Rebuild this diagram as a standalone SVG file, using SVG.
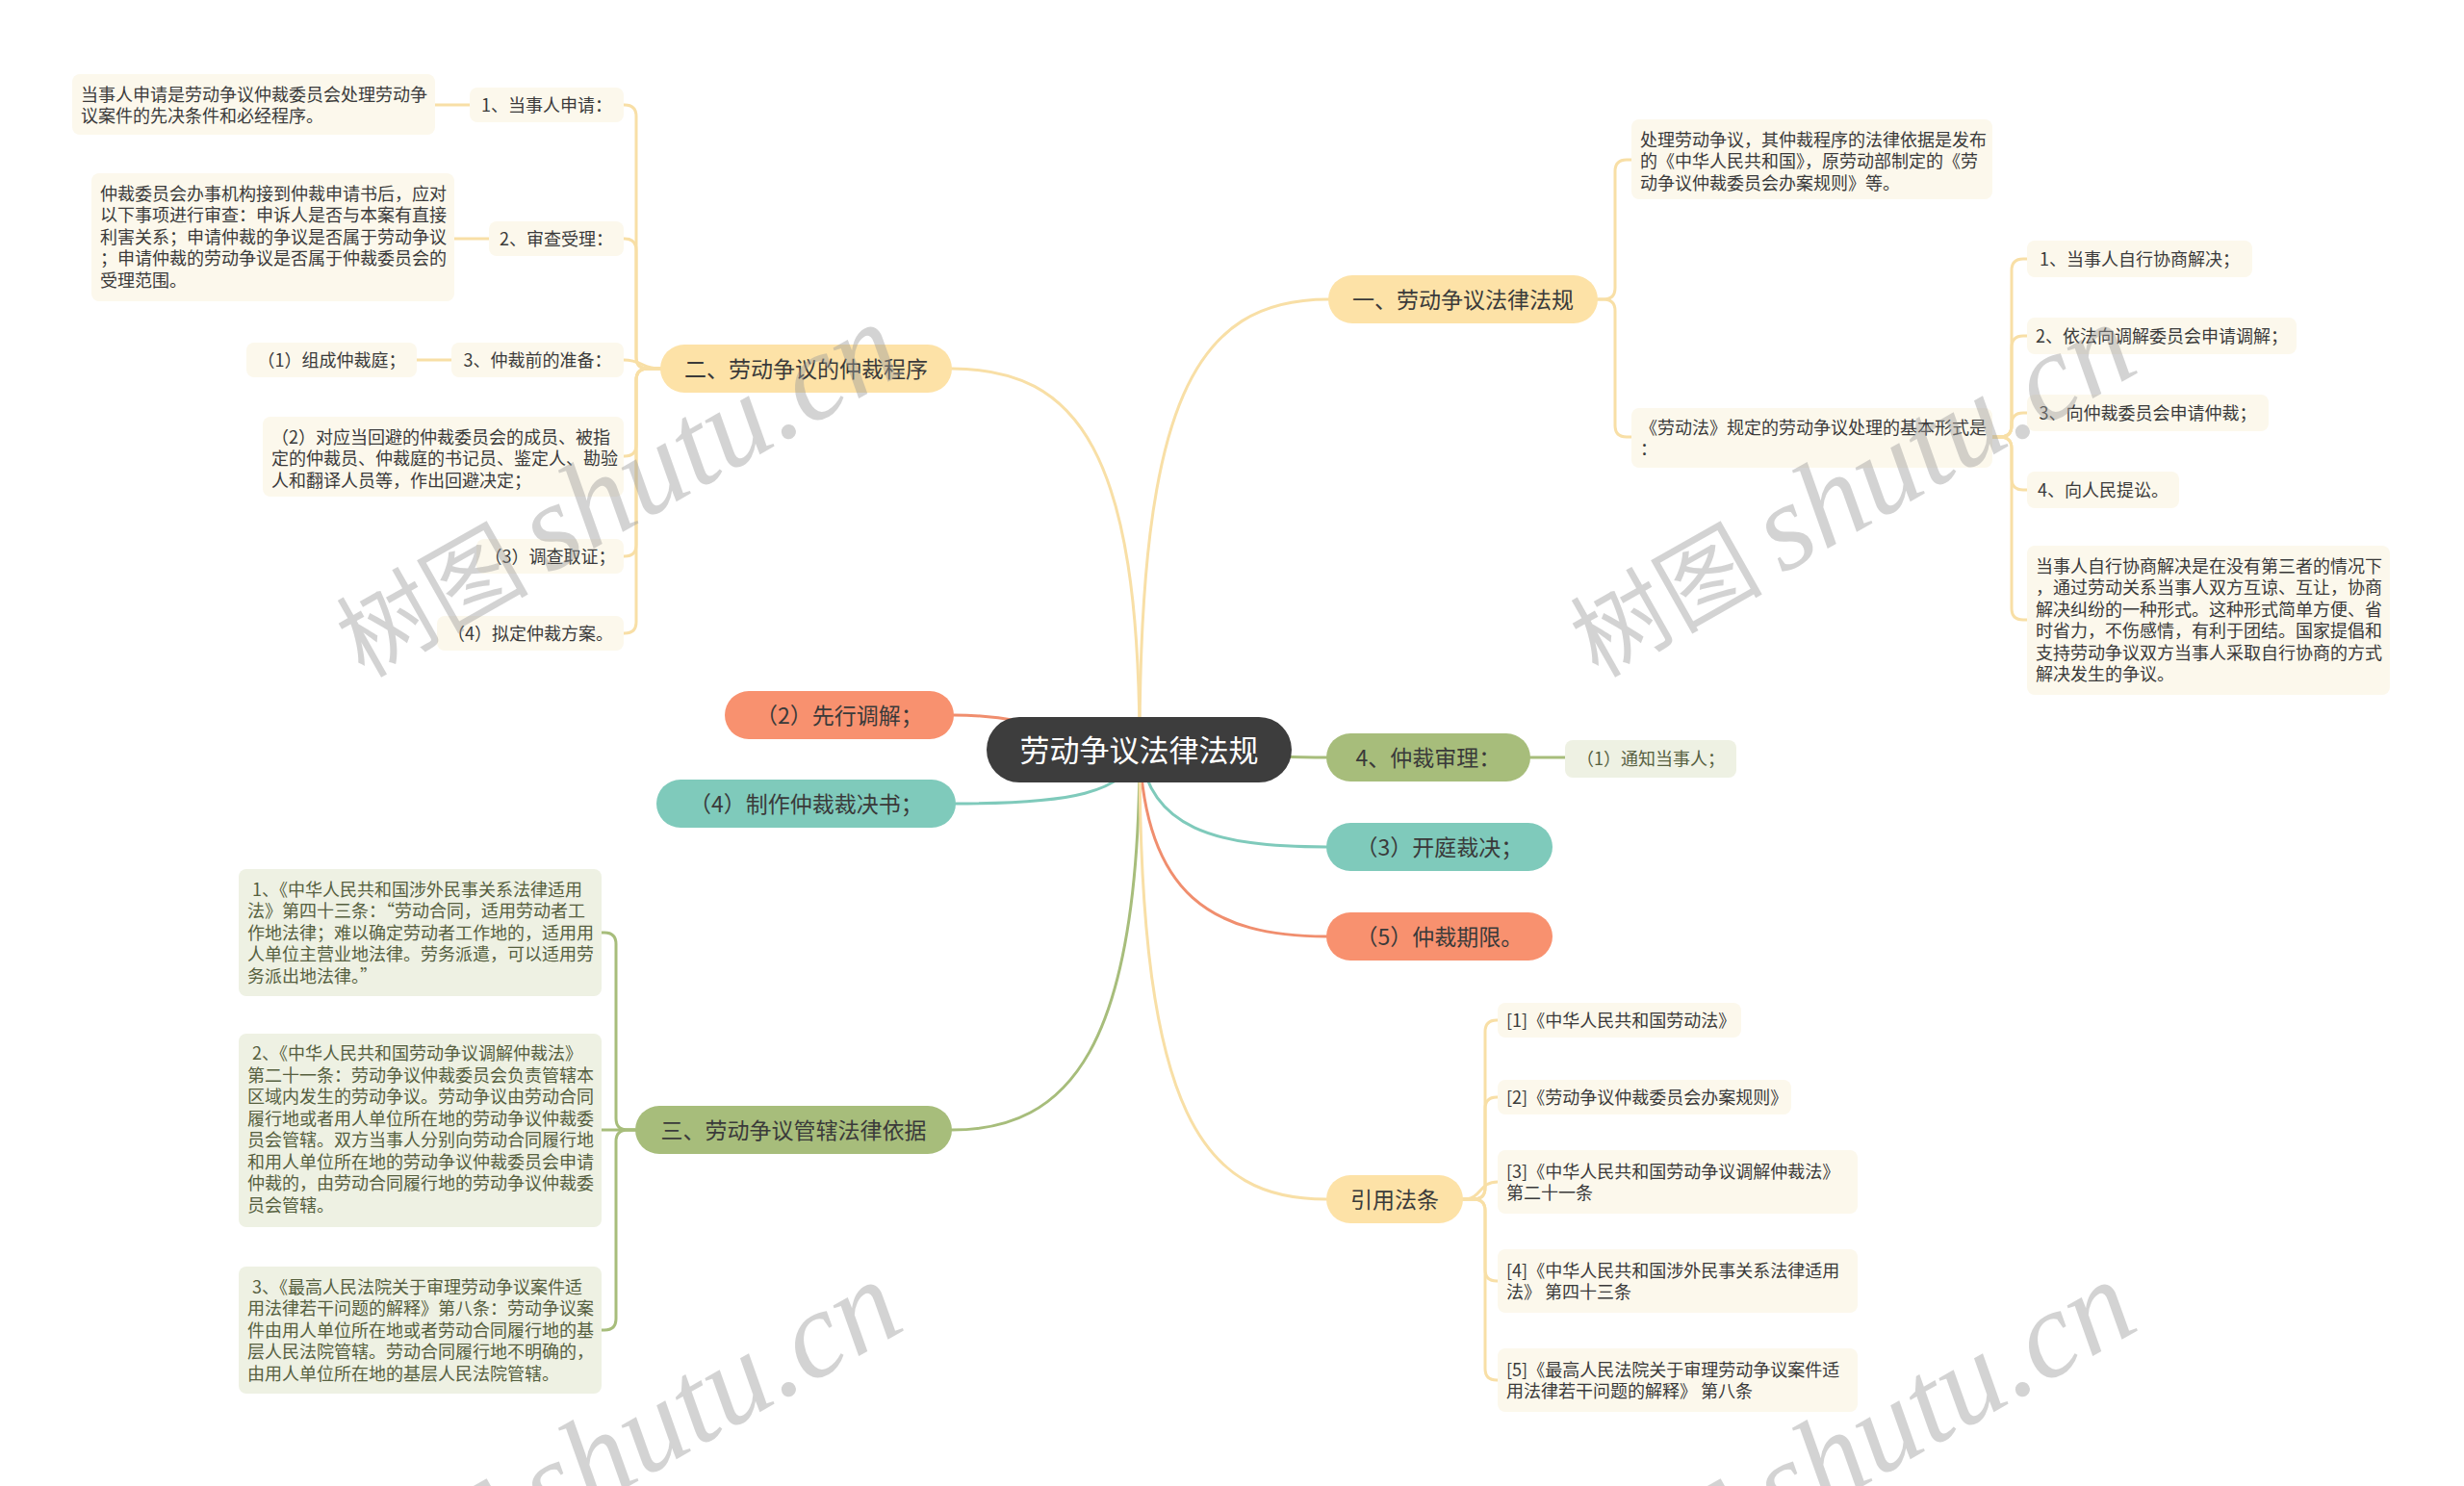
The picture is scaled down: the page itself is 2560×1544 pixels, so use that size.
<svg xmlns="http://www.w3.org/2000/svg" width="2560" height="1544" viewBox="0 0 2560 1544">
<style>
text{font-family:"Noto Sans CJK SC","Noto Sans",sans-serif;fill:#3a3a3a}
.l1{font-size:23px;text-anchor:middle}
.lf{font-size:18px}
.c{text-anchor:middle}
.gt{fill:#56603f}
.root{fill:#3d3d3d}
.ny{fill:#fde2a7}
.ng{fill:#a7bd7b}
.nt{fill:#7fcabb}
.no{fill:#f8916f}
.ly{fill:#fcf8ec}
.lg{fill:#eef1e3}
.cn path{fill:none;stroke-width:3;stroke-linecap:round}
.sy{stroke:#f8dfa6}
.sg{stroke:#a7bd7b}
.st{stroke:#7fcabb}
.so{stroke:#f08e6e}
.wm text{fill:#999;opacity:0.42}
.wl{font-style:italic;font-family:"Liberation Serif",serif}
</style>
<rect width="2560" height="1544" fill="#ffffff"/>

<g class="cn" id="connectors">
<path class="sy" d="M1184 779 C1184 420 1240 311 1380 311"/>
<path class="sy" d="M1184 779 C1184 470 1120 383 989 383"/>
<path class="so" d="M1184 779 C1100 760 1060 743 991 743"/>
<path class="st" d="M1184 779 C1170 825 1110 835 993 835"/>
<path class="sg" d="M1184 779 C1260 782 1300 787 1378 787"/>
<path class="st" d="M1184 779 C1195 860 1260 880 1378 880"/>
<path class="so" d="M1184 779 C1190 930 1260 973 1378 973"/>
<path class="sg" d="M1184 779 C1184 1090 1110 1174 989 1174"/>
<path class="sy" d="M1184 779 C1184 1160 1250 1246 1378 1246"/>

<path class="sy" d="M1660 311 L1666 311 Q1678 311 1678 299 L1678 178 Q1678 166 1690 166 L1695 166"/>
<path class="sy" d="M1660 311 L1666 311 Q1678 311 1678 323 L1678 442 Q1678 454 1690 454 L1695 454"/>

<path class="sy" d="M2070 454 L2078 454 Q2090 454 2090 442 L2090 281 Q2090 269 2102 269 L2106 269"/>
<path class="sy" d="M2070 454 L2078 454 Q2090 454 2090 442 L2090 361 Q2090 349 2102 349 L2106 349"/>
<path class="sy" d="M2070 454 L2078 454 Q2090 454 2090 442 L2090 441 Q2090 429 2102 429 L2106 429"/>
<path class="sy" d="M2070 454 L2078 454 Q2090 454 2090 466 L2090 497 Q2090 509 2102 509 L2106 509"/>
<path class="sy" d="M2070 454 L2078 454 Q2090 454 2090 466 L2090 632 Q2090 644 2102 644 L2106 644"/>

<path class="sy" d="M686 383 L673 383 Q661 383 661 371 L661 121 Q661 109 649 109 L648 109"/>
<path class="sy" d="M686 383 L673 383 Q661 383 661 371 L661 260 Q661 248 649 248 L648 248"/>
<path class="sy" d="M686 383 C667 383 667 374 648 374"/>
<path class="sy" d="M686 383 L673 383 Q661 383 661 395 L661 462 Q661 474 649 474 L648 474"/>
<path class="sy" d="M686 383 L673 383 Q661 383 661 395 L661 566 Q661 578 649 578 L648 578"/>
<path class="sy" d="M686 383 L673 383 Q661 383 661 395 L661 646 Q661 658 649 658 L648 658"/>
<path class="sy" d="M488 109 L452 109"/>
<path class="sy" d="M508 248 L472 248"/>
<path class="sy" d="M469 374 L433 374"/>

<path class="sg" d="M1590 787 L1626 787"/>

<path class="sg" d="M660 1174 L652 1174 Q640 1174 640 1162 L640 981 Q640 969 628 969 L625 969"/>
<path class="sg" d="M660 1174 L625 1174"/>
<path class="sg" d="M660 1174 L652 1174 Q640 1174 640 1186 L640 1370 Q640 1382 628 1382 L625 1382"/>

<path class="sy" d="M1520 1246 L1531 1246 Q1543 1246 1543 1234 L1543 1072 Q1543 1060 1555 1060 L1556 1060"/>
<path class="sy" d="M1520 1246 L1531 1246 Q1543 1246 1543 1234 L1543 1152 Q1543 1140 1555 1140 L1556 1140"/>
<path class="sy" d="M1520 1246 C1540 1246 1536 1228 1556 1228"/>
<path class="sy" d="M1520 1246 L1531 1246 Q1543 1246 1543 1258 L1543 1319 Q1543 1331 1555 1331 L1556 1331"/>
<path class="sy" d="M1520 1246 L1531 1246 Q1543 1246 1543 1258 L1543 1422 Q1543 1434 1555 1434 L1556 1434"/>
</g>

<g id="root"><rect class="root" x="1025" y="745" width="317" height="68" rx="34"/><text x="1183.5" y="790.5" font-size="31" text-anchor="middle" style="fill:#ffffff">劳动争议法律法规</text></g>

<g id="n1"><rect class="ny" x="1380" y="286" width="280" height="50" rx="25"/><text class="l1" x="1520" y="319.5">一、劳动争议法律法规</text></g>
<g id="n2"><rect class="ny" x="686" y="358" width="303" height="50" rx="25"/><text class="l1" x="837.5" y="391.5">二、劳动争议的仲裁程序</text></g>
<g id="n3"><rect class="no" x="753" y="718" width="238" height="50" rx="25"/><text class="l1" x="872" y="751.5">（2）先行调解；</text></g>
<g id="n4"><rect class="nt" x="682" y="810" width="311" height="50" rx="25"/><text class="l1" x="837.5" y="843.5">（4）制作仲裁裁决书；</text></g>
<g id="n5"><rect class="ng" x="1378" y="762" width="212" height="50" rx="25"/><text class="l1" x="1484" y="795.5">4、仲裁审理：</text></g>
<g id="n6"><rect class="nt" x="1378" y="855" width="235" height="50" rx="25"/><text class="l1" x="1495.5" y="888.5">（3）开庭裁决；</text></g>
<g id="n7"><rect class="no" x="1378" y="948" width="235" height="50" rx="25"/><text class="l1" x="1495.5" y="981.5">（5）仲裁期限。</text></g>
<g id="n8"><rect class="ng" x="660" y="1149" width="329" height="50" rx="25"/><text class="l1" x="824.5" y="1182.5">三、劳动争议管辖法律依据</text></g>
<g id="n9"><rect class="ny" x="1378" y="1221" width="142" height="50" rx="25"/><text class="l1" x="1449" y="1254.5">引用法条</text></g>

<g id="n5a"><rect class="lg" x="1626" y="769" width="178" height="39" rx="8"/><text class="lf c gt" x="1715" y="795">（1）通知当事人；</text></g>

<g id="a1"><rect class="ly" x="488" y="91" width="160" height="36" rx="8"/><text class="lf c" x="568" y="115.5">1、当事人申请：</text></g>
<g id="a1a"><rect class="ly" x="75" y="77" width="377" height="63" rx="8"/><text class="lf"><tspan x="84" y="104.5">当事人申请是劳动争议仲裁委员会处理劳动争</tspan><tspan x="84" y="127">议案件的先决条件和必经程序。</tspan></text></g>
<g id="a2"><rect class="ly" x="508" y="230" width="140" height="36" rx="8"/><text class="lf c" x="578" y="254.5">2、审查受理：</text></g>
<g id="a2a"><rect class="ly" x="95" y="180" width="377" height="133" rx="8"/><text class="lf"><tspan x="104" y="207.5">仲裁委员会办事机构接到仲裁申请书后，应对</tspan><tspan x="104" y="230">以下事项进行审查：申诉人是否与本案有直接</tspan><tspan x="104" y="252.5">利害关系；申请仲裁的争议是否属于劳动争议</tspan><tspan x="104" y="275">；申请仲裁的劳动争议是否属于仲裁委员会的</tspan><tspan x="104" y="297.5">受理范围。</tspan></text></g>
<g id="a3"><rect class="ly" x="469" y="356" width="179" height="36" rx="8"/><text class="lf c" x="558.5" y="380.5">3、仲裁前的准备：</text></g>
<g id="a3a"><rect class="ly" x="256" y="356" width="177" height="36" rx="8"/><text class="lf c" x="344.5" y="380.5">（1）组成仲裁庭；</text></g>
<g id="a4"><rect class="ly" x="273" y="433" width="375" height="83" rx="8"/><text class="lf"><tspan x="282" y="460.5">（2）对应当回避的仲裁委员会的成员、被指</tspan><tspan x="282" y="483">定的仲裁员、仲裁庭的书记员、鉴定人、勘验</tspan><tspan x="282" y="505.5">人和翻译人员等，作出回避决定；</tspan></text></g>
<g id="a5"><rect class="ly" x="495" y="560" width="153" height="36" rx="8"/><text class="lf c" x="571.5" y="584.5">（3）调查取证；</text></g>
<g id="a6"><rect class="ly" x="454" y="640" width="194" height="36" rx="8"/><text class="lf c" x="551" y="664.5">（4）拟定仲裁方案。</text></g>

<g id="b1"><rect class="ly" x="1695" y="124" width="375" height="83" rx="8"/><text class="lf"><tspan x="1704" y="151.5">处理劳动争议，其仲裁程序的法律依据是发布</tspan><tspan x="1704" y="174">的《中华人民共和国》，原劳动部制定的《劳</tspan><tspan x="1704" y="196.5">动争议仲裁委员会办案规则》等。</tspan></text></g>
<g id="b2"><rect class="ly" x="1695" y="424" width="375" height="62" rx="8"/><text class="lf"><tspan x="1704" y="450.5">《劳动法》规定的劳动争议处理的基本形式是</tspan><tspan x="1704" y="473">：</tspan></text></g>
<g id="b2a"><rect class="ly" x="2106" y="250" width="234" height="38" rx="8"/><text class="lf c" x="2223" y="275.5">1、当事人自行协商解决；</text></g>
<g id="b2b"><rect class="ly" x="2106" y="330" width="280" height="38" rx="8"/><text class="lf c" x="2246" y="355.5">2、依法向调解委员会申请调解；</text></g>
<g id="b2c"><rect class="ly" x="2106" y="410" width="251" height="38" rx="8"/><text class="lf c" x="2231.5" y="435.5">3、向仲裁委员会申请仲裁；</text></g>
<g id="b2d"><rect class="ly" x="2106" y="490" width="158" height="38" rx="8"/><text class="lf c" x="2185" y="515.5">4、向人民提讼。</text></g>
<g id="b2e"><rect class="ly" x="2106" y="567" width="377" height="155" rx="8"/><text class="lf"><tspan x="2115" y="594.5">当事人自行协商解决是在没有第三者的情况下</tspan><tspan x="2115" y="617">，通过劳动关系当事人双方互谅、互让，协商</tspan><tspan x="2115" y="639.5">解决纠纷的一种形式。这种形式简单方便、省</tspan><tspan x="2115" y="662">时省力，不伤感情，有利于团结。国家提倡和</tspan><tspan x="2115" y="684.5">支持劳动争议双方当事人采取自行协商的方式</tspan><tspan x="2115" y="707">解决发生的争议。</tspan></text></g>

<g id="c1"><rect class="lg" x="248" y="903" width="377" height="132" rx="8"/><text class="lf gt"><tspan x="262" y="930.5">1、《中华人民共和国涉外民事关系法律适用</tspan><tspan x="257" y="953">法》第四十三条：“劳动合同，适用劳动者工</tspan><tspan x="257" y="975.5">作地法律；难以确定劳动者工作地的，适用用</tspan><tspan x="257" y="998">人单位主营业地法律。劳务派遣，可以适用劳</tspan><tspan x="257" y="1020.5">务派出地法律。”</tspan></text></g>
<g id="c2"><rect class="lg" x="248" y="1074" width="377" height="201" rx="8"/><text class="lf gt"><tspan x="262" y="1101">2、《中华人民共和国劳动争议调解仲裁法》</tspan><tspan x="257" y="1123.5">第二十一条：劳动争议仲裁委员会负责管辖本</tspan><tspan x="257" y="1146">区域内发生的劳动争议。劳动争议由劳动合同</tspan><tspan x="257" y="1168.5">履行地或者用人单位所在地的劳动争议仲裁委</tspan><tspan x="257" y="1191">员会管辖。双方当事人分别向劳动合同履行地</tspan><tspan x="257" y="1213.5">和用人单位所在地的劳动争议仲裁委员会申请</tspan><tspan x="257" y="1236">仲裁的，由劳动合同履行地的劳动争议仲裁委</tspan><tspan x="257" y="1258.5">员会管辖。</tspan></text></g>
<g id="c3"><rect class="lg" x="248" y="1316" width="377" height="132" rx="8"/><text class="lf gt"><tspan x="262" y="1343.5">3、《最高人民法院关于审理劳动争议案件适</tspan><tspan x="257" y="1366">用法律若干问题的解释》第八条：劳动争议案</tspan><tspan x="257" y="1388.5">件由用人单位所在地或者劳动合同履行地的基</tspan><tspan x="257" y="1411">层人民法院管辖。劳动合同履行地不明确的，</tspan><tspan x="257" y="1433.5">由用人单位所在地的基层人民法院管辖。</tspan></text></g>

<g id="d1"><rect class="ly" x="1556" y="1042" width="253" height="36" rx="8"/><text class="lf" x="1565" y="1066.5">[1]《中华人民共和国劳动法》</text></g>
<g id="d2"><rect class="ly" x="1556" y="1122" width="305" height="36" rx="8"/><text class="lf" x="1565" y="1146.5">[2]《劳动争议仲裁委员会办案规则》</text></g>
<g id="d3"><rect class="ly" x="1556" y="1195" width="374" height="66" rx="8"/><text class="lf"><tspan x="1565" y="1223.5">[3]《中华人民共和国劳动争议调解仲裁法》</tspan><tspan x="1565" y="1246">第二十一条</tspan></text></g>
<g id="d4"><rect class="ly" x="1556" y="1298" width="374" height="66" rx="8"/><text class="lf"><tspan x="1565" y="1326.5">[4]《中华人民共和国涉外民事关系法律适用</tspan><tspan x="1565" y="1349">法》 第四十三条</tspan></text></g>
<g id="d5"><rect class="ly" x="1556" y="1401" width="374" height="66" rx="8"/><text class="lf"><tspan x="1565" y="1429.5">[5]《最高人民法院关于审理劳动争议案件适</tspan><tspan x="1565" y="1452">用法律若干问题的解释》 第八条</tspan></text></g>

<g class="wm" id="watermarks">
<text transform="translate(378,705) rotate(-29.5)"><tspan font-size="100">树图</tspan><tspan class="wl" dx="20" font-size="128">shutu.cn</tspan></text>
<text transform="translate(1660,705) rotate(-29.5)"><tspan font-size="100">树图</tspan><tspan class="wl" dx="20" font-size="128">shutu.cn</tspan></text>
<text transform="translate(378,1700) rotate(-29.5)"><tspan font-size="100">树图</tspan><tspan class="wl" dx="20" font-size="128">shutu.cn</tspan></text>
<text transform="translate(1660,1700) rotate(-29.5)"><tspan font-size="100">树图</tspan><tspan class="wl" dx="20" font-size="128">shutu.cn</tspan></text>
</g>
</svg>
